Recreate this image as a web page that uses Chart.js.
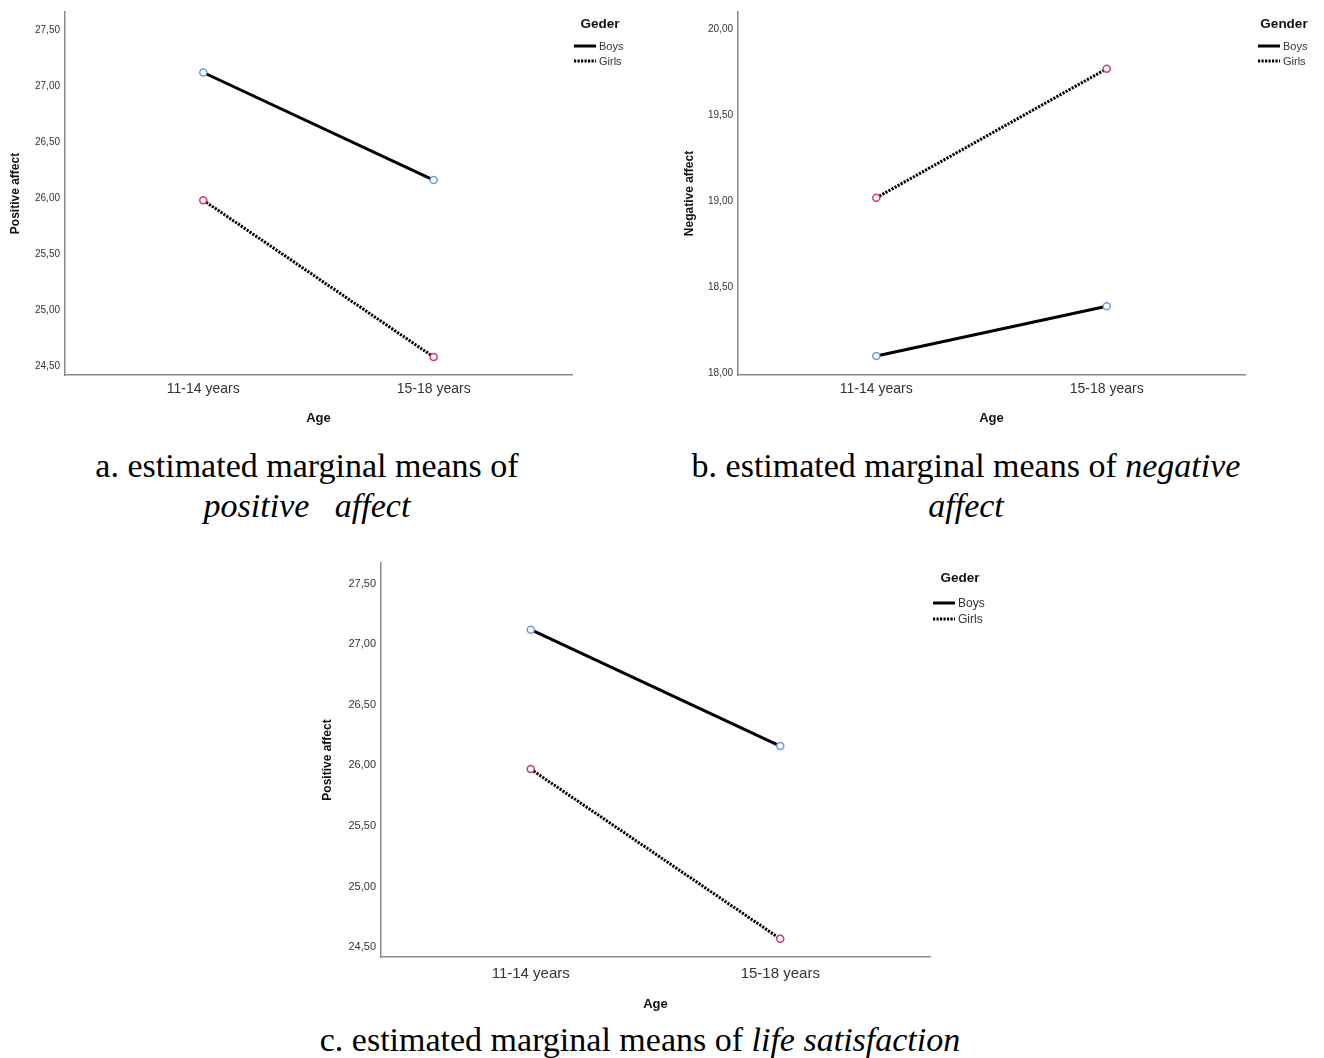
<!DOCTYPE html>
<html>
<head>
<meta charset="utf-8">
<script src="https://cdn.jsdelivr.net/npm/chart.js@4.4.0/dist/chart.umd.min.js"></script>
<style>
  body { margin: 0; background: #fff; width: 1324px; height: 1058px; position: relative; overflow: hidden; }
  .box { position: absolute; }
  .cap { position: absolute; font-family: 'Liberation Serif', 'Times New Roman', serif; font-size: 34px; color: #000; text-align: center; line-height: 40px; white-space: pre; }
  .cap i { font-style: italic; }
</style>
</head>
<body>
<div class="box" style="left:0;top:0;width:660px;height:435px"><canvas id="chartA"></canvas></div>
<div class="box" style="left:674px;top:0;width:650px;height:435px"><canvas id="chartB"></canvas></div>
<div class="box" style="left:312px;top:551px;width:700px;height:466px"><canvas id="chartC"></canvas></div>

<div class="cap" style="left:0;top:446px;width:614px">a. estimated marginal means of<br><i>positive   affect</i></div>
<div class="cap" style="left:640px;top:446px;width:652px">b. estimated marginal means of <i>negative</i><br><i>affect</i></div>
<div class="cap" style="left:0;top:1020px;width:1280px">c. estimated marginal means of <i>life satisfaction</i></div>

<script>
// Data
const ages = ['11-14 years', '15-18 years'];
const genders = ['Boys', 'Girls'];

const posBoys = [27.12, 26.16];
const posGirls = [25.98, 24.58];

const negBoys = [18.10, 18.39];
const negGirls = [19.02, 19.77];

const lifeBoys = [27.12, 26.16];
const lifeGirls = [25.97, 24.57];

const SANS = '"Liberation Sans", Arial, sans-serif';

// Legend drawn to the right of the plot, SPSS style
const sideLegend = {
    id: 'sideLegend',
    afterDraw(chart, args, opts) {
        const ctx = chart.ctx;
        const x0 = chart.chartArea.right + opts.dx;
        const y0 = chart.chartArea.top + opts.dy;
        ctx.save();
        ctx.fillStyle = '#111';
        ctx.font = 'bold 13.5px ' + SANS;
        ctx.textAlign = 'center';
        ctx.textBaseline = 'middle';
        ctx.fillText(opts.title, x0 + opts.titleDx, y0);
        chart.data.datasets.forEach(function(ds, i) {
            const y = y0 + opts.gap + i * opts.step;
            ctx.beginPath();
            ctx.setLineDash(ds.borderDash || []);
            ctx.lineWidth = 3;
            ctx.strokeStyle = ds.borderColor;
            ctx.moveTo(x0, y);
            ctx.lineTo(x0 + 22, y);
            ctx.stroke();
            ctx.setLineDash([]);
            ctx.fillStyle = '#333';
            ctx.font = opts.labelSize + 'px ' + SANS;
            ctx.textAlign = 'left';
            ctx.fillText(ds.label, x0 + 25, y + 1);
        });
        ctx.restore();
    }
};

function makeDatasets(boys, girls) {
    return [{
        label: genders[0],
        data: boys.map(function(v, i) { return {x: i, y: v}; }),
        borderColor: '#000',
        borderWidth: 3,
        pointRadius: 3.5,
        pointBorderWidth: 1.5,
        pointBackgroundColor: '#fff',
        pointBorderColor: '#6a9fd8'
    }, {
        label: genders[1],
        data: girls.map(function(v, i) { return {x: i, y: v}; }),
        borderColor: '#000',
        borderWidth: 3,
        borderDash: [2.2, 1.3],
        pointRadius: 3.5,
        pointBorderWidth: 1.5,
        pointBackgroundColor: '#fff',
        pointBorderColor: '#d83a62'
    }];
}

function initializeChart(id, boys, girls, cfg) {
    const ctx = document.getElementById(id).getContext('2d');
    new Chart(ctx, {
        type: 'line',
        data: { datasets: makeDatasets(boys, girls) },
        plugins: [sideLegend],
        options: {
            responsive: true,
            maintainAspectRatio: false,
            animation: false,
            layout: { padding: { top: 12, right: cfg.padRight, left: 0, bottom: 0 } },
            plugins: {
                legend: { display: false },
                tooltip: { enabled: false },
                sideLegend: cfg.legend
            },
            scales: {
                x: {
                    type: 'linear',
                    min: -0.6,
                    max: 1.6,
                    afterBuildTicks: function(scale) {
                        scale.ticks = ages.map(function(a, i) { return {value: i}; });
                    },
                    afterFit: function(scale) { scale.height = 60; },
                    grid: { display: false, drawTicks: false },
                    border: { display: true, color: '#8a8a8a', width: 1.5 },
                    ticks: {
                        padding: cfg.xTickPad,
                        color: '#333',
                        font: { family: SANS, size: cfg.xTickSize },
                        callback: function(v) { return ages[v]; }
                    },
                    title: {
                        display: true,
                        text: 'Age',
                        color: '#111',
                        font: { family: SANS, size: 13, weight: 'bold' },
                        padding: { top: 0, bottom: cfg.xTitlePad }
                    }
                },
                y: {
                    min: cfg.yMin,
                    max: cfg.yMax,
                    afterFit: function(scale) { scale.width = cfg.yWidth; },
                    grid: { display: false, drawTicks: false },
                    border: { display: true, color: '#8a8a8a', width: 1.5 },
                    ticks: {
                        stepSize: 0.5,
                        includeBounds: false,
                        padding: 5,
                        color: '#333',
                        font: { family: SANS, size: cfg.yTickSize },
                        callback: function(v) { return v.toFixed(2).replace('.', ','); }
                    },
                    title: {
                        display: true,
                        text: cfg.yTitle,
                        color: '#111',
                        font: { family: SANS, size: 12, weight: 'bold' },
                        padding: { top: 8, bottom: 0 }
                    }
                }
            }
        }
    });
}

document.addEventListener('DOMContentLoaded', function() {
    initializeChart('chartA', posBoys, posGirls, {
        yTitle: 'Positive affect', yMin: 24.42, yMax: 27.66, yWidth: 65, padRight: 88,
        xTickPad: 6, xTitlePad: 9, xTickSize: 14, yTickSize: 10,
        legend: { title: 'Geder', dx: 2, dy: 12, titleDx: 26, gap: 22, step: 15, labelSize: 11 }
    });
    initializeChart('chartB', negBoys, negGirls, {
        yTitle: 'Negative affect', yMin: 17.99, yMax: 20.10, yWidth: 64, padRight: 79,
        xTickPad: 6, xTitlePad: 9, xTickSize: 14, yTickSize: 10,
        legend: { title: 'Gender', dx: 13, dy: 12, titleDx: 26, gap: 22, step: 15, labelSize: 11 }
    });
    initializeChart('chartC', lifeBoys, lifeGirls, {
        yTitle: 'Positive affect', yMin: 24.42, yMax: 27.67, yWidth: 69, padRight: 82,
        xTickPad: 8, xTitlePad: 5, xTickSize: 15, yTickSize: 11,
        legend: { title: 'Geder', dx: 3, dy: 15, titleDx: 27, gap: 25, step: 16, labelSize: 12 }
    });
});
</script>
</body>
</html>
